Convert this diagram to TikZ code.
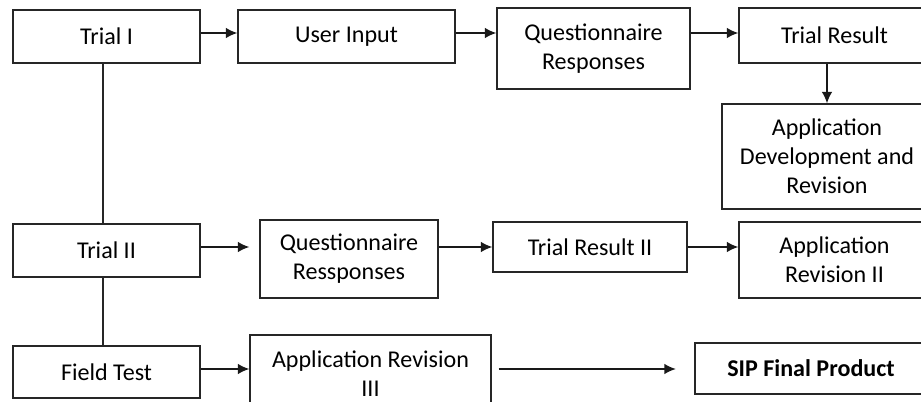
\documentclass[tikz,border=0pt]{standalone}
\usepackage{fontspec}
\setmainfont{Carlito}
\usetikzlibrary{arrows.meta}

\begin{document}
\begin{tikzpicture}[x=0.02cm, y=-0.02cm]
	\tikzstyle{box} = [draw=black!85, line width=0.8pt, align=center, inner sep=0pt, font=\fontsize{13.7}{16.5}\selectfont]
	\tikzstyle{final} = [box, line width=1.4pt, font=\fontsize{13.7}{16.5}\selectfont\bfseries]
	\tikzstyle{edge} = [-{Latex[length=6.5pt, width=6pt]}, line width=0.8pt, draw=black!90]
	\tikzstyle{link} = [line width=0.8pt, draw=black!85]

	\useasboundingbox (0,0) rectangle (921,402);
	\clip (0,0) rectangle (921,402);

%----------Trial I row------------------------------
	\node[box, minimum width=3.74cm, minimum height=1.06cm] (trial1) at (106.5,36.5) {Trial I};
	\node[box, minimum width=4.34cm, minimum height=1.06cm] (input) at (346.5,36.5) {User Input};
	\node[box, minimum width=3.86cm, minimum height=1.62cm] (quest1) at (593.5,48.5) {Questionnaire\\Responses};
	\node[box, minimum width=3.82cm, minimum height=1.10cm] (result1) at (834.5,35.5) {Trial Result};
	\node[box, minimum width=4.20cm, minimum height=2.10cm] (appdev) at (827,156.5) {Application\\Development and\\Revision};

	\draw[edge] (trial1.east |- 0,33) -- (input.west |- 0,33);
	\draw[edge] (input.east |- 0,33) -- (quest1.west |- 0,33);
	\draw[edge] (quest1.east |- 0,33) -- (result1.west |- 0,33);
	\draw[edge] (result1.south -| appdev.north) -- (appdev.north);

%----------Trial II row-----------------------------
	\node[box, minimum width=3.74cm, minimum height=1.06cm] (trial2) at (106.5,250.5) {Trial II};
	\node[box, minimum width=3.56cm, minimum height=1.56cm] (quest2) at (349,259) {Questionnaire\\Ressponses};
	\node[box, minimum width=3.88cm, minimum height=1.00cm] (result2) at (590,247) {Trial Result II};
	\node[box, minimum width=3.82cm, minimum height=1.52cm] (apprev2) at (834.5,260) {Application\\Revision II};

	\draw[edge, shorten >=10*0.02cm] (trial2.east |- result2) -- (quest2.west |- result2);
	\draw[edge] (quest2.east |- result2) -- (result2.west);
	\draw[edge] (result2.east) -- (apprev2.west |- result2);

	\draw[link] (trial1.south -| 103,0) -- (trial2.north -| 103,0);

%----------Field test row---------------------------
	\node[box, minimum width=3.74cm, minimum height=1.04cm] (field) at (106.5,372) {Field Test};
	\node[box, minimum width=4.82cm, minimum height=1.56cm] (apprev3) at (370.5,374) {Application Revision\\III};
	\node[final, minimum width=4.64cm, minimum height=1.02cm] (sip) at (811,368.5) {SIP Final Product};

	\draw[edge] (field.east |- 0,369) -- (apprev3.west |- 0,369);
	\draw[edge, shorten <=7*0.02cm, shorten >=18*0.02cm] (apprev3.east |- 0,369) -- (sip.west |- 0,369);

	\draw[link] (trial2.south -| 103,0) -- (field.north -| 103,0);

\end{tikzpicture}
\end{document}
